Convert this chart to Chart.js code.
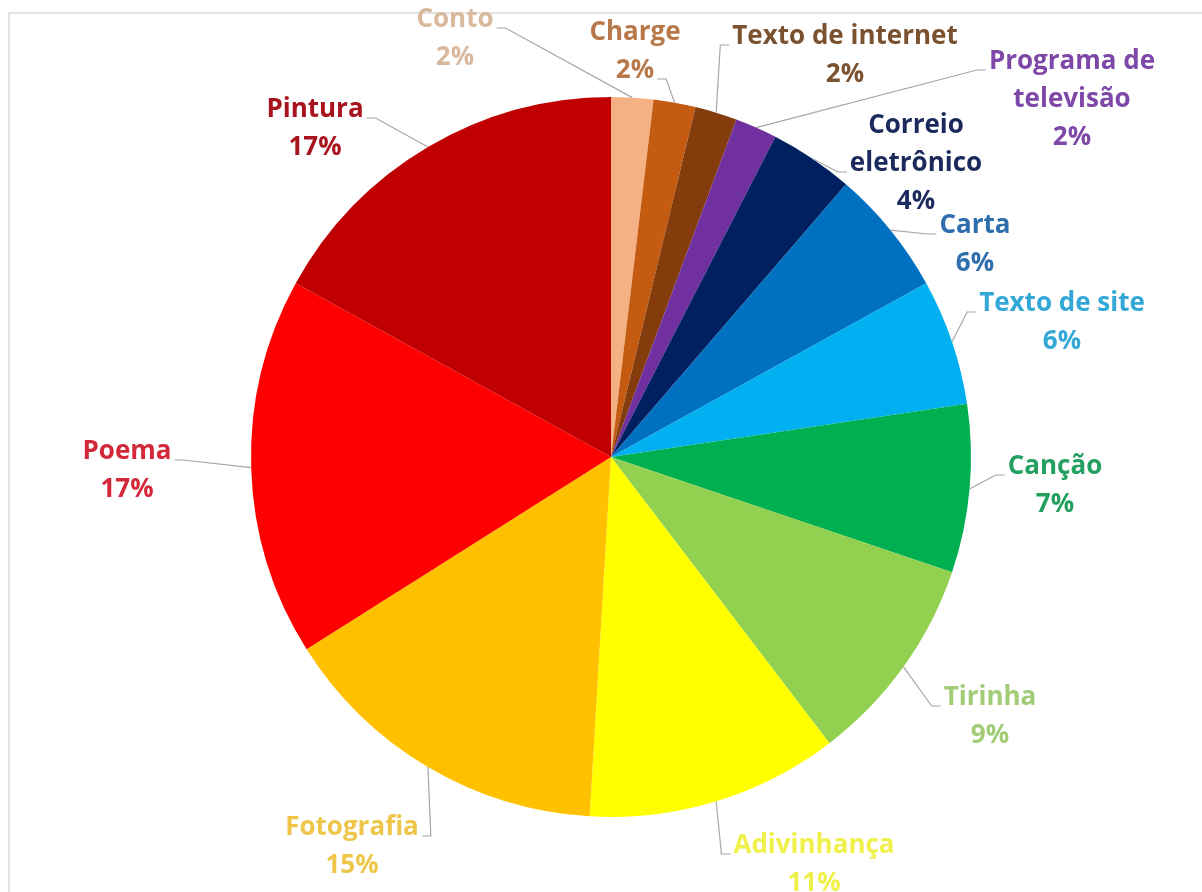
<!DOCTYPE html>
<html>
<head>
<meta charset="utf-8">
<script src="https://cdn.jsdelivr.net/npm/chart.js@4"></script>
<style>
  html, body { margin: 0; padding: 0; background: #fff; }
  #frame { position: absolute; left: 8px; top: 12px; width: 1300px; height: 1000px;
           border-left: 2px solid #e3e3e3; border-top: 2px solid #e3e3e3; }
  #wrap { position: absolute; left: 0; top: 0; width: 1202px; height: 892px; }
</style>
</head>
<body>
<div id="frame"></div>
<div id="wrap"><canvas id="pie"></canvas></div>
<script>
// categories, clockwise from 12 o'clock
const categories = ['Conto', 'Charge', 'Texto de internet', 'Programa de televisão',
  'Correio eletrônico', 'Carta', 'Texto de site', 'Canção', 'Tirinha',
  'Adivinhança', 'Fotografia', 'Poema', 'Pintura'];
// counts behind the slices (total 53)
const counts = [1, 1, 1, 1, 2, 3, 3, 4, 5, 6, 8, 9, 9];
// percentages as printed on the labels
const percents = ['2%', '2%', '2%', '2%', '4%', '6%', '6%', '7%', '9%', '11%', '15%', '17%', '17%'];

const sliceColors = ['#F4B183', '#C55A11', '#843C0C', '#7030A0', '#002060', '#0070C0',
  '#00B0F0', '#00B050', '#92D050', '#FFFF00', '#FFC000', '#FF0000', '#C00000'];
const labelColors = ['#D9B99C', '#B8784A', '#7B5230', '#7E48A8', '#1B2A5C', '#2E6DAE',
  '#33A8D6', '#23A060', '#A2CC78', '#F0F04A', '#EEC64A', '#D2283A', '#A8141E'];

// label layout: name lines, first-line centre as offset from pie centre (px at r=360),
// and which line the leader line hooks onto
const nameLines = [['Conto'], ['Charge'], ['Texto de internet'], ['Programa de', 'televisão'],
  ['Correio', 'eletrônico'], ['Carta'], ['Texto de site'], ['Canção'], ['Tirinha'],
  ['Adivinhança'], ['Fotografia'], ['Poema'], ['Pintura']];
const labelOffsets = [[-156, -437], [24, -424], [234, -420], [461, -395], [305, -331],
  [364, -231], [451, -153], [444, 10], [379, 241], [203, 389], [-259, 371], [-484, -5], [-296, -347]];
const hookLine = [0, 1, 0, 0, 1, 0, 0, 0, 0, 0, 0, 0, 0];

const FONT = 'bold 26px "Open Sans", sans-serif';
const LINE_H = 38;

const labelPlugin = {
  id: 'outsideLabels',
  afterDraw(chart) {
    const ctx = chart.ctx;
    const arcs = chart.getDatasetMeta(0).data;
    ctx.save();
    ctx.font = FONT;
    ctx.textAlign = 'center';
    ctx.textBaseline = 'middle';
    arcs.forEach((arc, i) => {
      const { x, y, outerRadius, startAngle, endAngle } = arc.getProps(
        ['x', 'y', 'outerRadius', 'startAngle', 'endAngle'], true);
      const mid = (startAngle + endAngle) / 2;
      const ex = x + Math.cos(mid) * outerRadius;
      const ey = y + Math.sin(mid) * outerRadius;
      const lx = x + labelOffsets[i][0] / 360 * outerRadius;
      const ly = y + labelOffsets[i][1] / 360 * outerRadius;
      const lines = nameLines[i].concat([percents[i]]);
      // leader line
      const hl = hookLine[i];
      const w = ctx.measureText(lines[hl]).width;
      const hy = ly + hl * LINE_H + 8;
      const right = lx < ex;
      const hx = right ? lx + w / 2 + 3 : lx - w / 2 - 3;
      const sx = right ? hx + 9 : hx - 9;
      ctx.strokeStyle = '#A6A6A6';
      ctx.lineWidth = 1.2;
      ctx.beginPath();
      ctx.moveTo(hx, hy);
      ctx.lineTo(sx, hy);
      ctx.lineTo(ex, ey);
      ctx.stroke();
      // text
      ctx.fillStyle = labelColors[i];
      lines.forEach((t, k) => ctx.fillText(t, lx, ly + k * LINE_H));
    });
    ctx.restore();
  }
};

new Chart(document.getElementById('pie'), {
  type: 'pie',
  data: {
    labels: categories,
    datasets: [{
      data: counts,
      backgroundColor: sliceColors,
      borderWidth: 0
    }]
  },
  options: {
    responsive: true,
    maintainAspectRatio: false,
    animation: false,
    layout: { padding: { left: 251, right: 231, top: 97, bottom: 75 } },
    plugins: { legend: { display: false }, tooltip: { enabled: false } }
  },
  plugins: [labelPlugin]
});
</script>
</body>
</html>
